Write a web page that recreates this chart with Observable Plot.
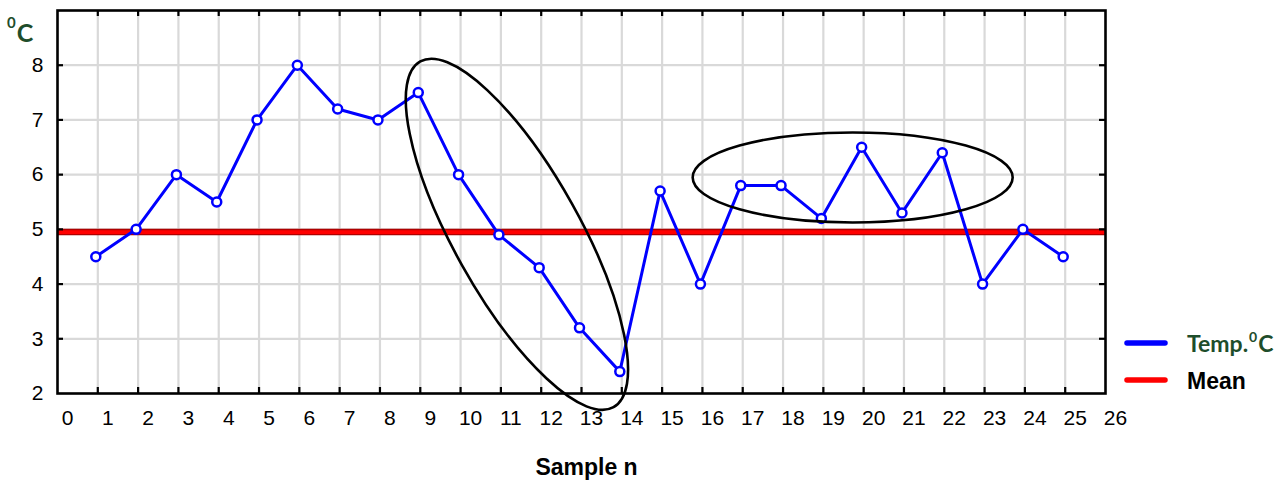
<!DOCTYPE html>
<html><head><meta charset="utf-8">
<script src="https://cdn.jsdelivr.net/npm/d3@7"></script>
<script src="https://cdn.jsdelivr.net/npm/@observablehq/plot@0.6"></script>
<style>
body{margin:0;background:#fff;}
#wrap{position:relative;width:1288px;height:489px;overflow:hidden;}
</style></head><body><div id="wrap"></div>
<script>
// ---- data ----
const samples = [1,2,3,4,5,6,7,8,9,10,11,12,13,14,15,16,17,18,19,20,21,22,23,24,25];
const temps = [4.5,5.0,6.0,5.5,7.0,8.0,7.2,7.0,7.5,6.0,4.9,4.3,3.2,2.4,5.7,4.0,5.8,5.8,5.2,6.5,5.3,6.4,4.0,5.0,4.5];
const meanTemp = [4.95];
const xTickLabels = [0,1,2,3,4,5,6,7,8,9,10,11,12,13,14,15,16,17,18,19,20,21,22,23,24,25,26];
const xGrid = [1,2,3,4,5,6,7,8,9,10,11,12,13,14,15,16,17,18,19,20,21,22,23,24,25];
const yTickLabels = [2,3,4,5,6,7,8];
const yGrid = [3,4,5,6,7,8];
// annotation ellipses (centres in data units)
const ellipseCentersX = [11.41, 19.74];
const ellipseCentersY = [4.90, 5.94];

const rows = samples.map((s, i) => ({sample: s, temp: temps[i]}));

const ellipseShape = [{rx: 198, ry: 63, angle: 60.8}, {rx: 160, ry: 45, angle: 0}];
function ellipseMark(index, scales) {
  const sx = scales.x || (scales.scales && scales.scales.x);
  const sy = scales.y || (scales.scales && scales.scales.y);
  const g = d3.create("svg:g").attr("fill", "none").attr("stroke", "#000").attr("stroke-width", 2.6);
  ellipseCentersX.forEach((cx, i) => {
    const e = ellipseShape[i];
    g.append("ellipse").attr("cx", 0).attr("cy", 0).attr("rx", e.rx).attr("ry", e.ry)
      .attr("transform", `translate(${sx(cx)},${sy(ellipseCentersY[i])}) rotate(${e.angle})`);
  });
  return g.node();
}

const chart = Plot.plot({
  width: 1288, height: 489,
  marginLeft: 57, marginRight: 183, marginTop: 10, marginBottom: 96,
  x: {domain: [0, 26]},
  y: {domain: [2, 9]},
  style: {fontFamily: "'Liberation Sans', Arial, sans-serif", fontSize: "21px", color: "#000", background: "#fff", overflow: "visible"},
  marks: [
    Plot.gridX(xGrid, {stroke: "#d9d9d9", strokeOpacity: 1, strokeWidth: 2.2}),
    Plot.gridY(yGrid, {stroke: "#d9d9d9", strokeOpacity: 1, strokeWidth: 2.2}),
    Plot.ruleY(meanTemp, {stroke: "#b00000", strokeWidth: 6.5}),
    Plot.ruleY(meanTemp, {stroke: "#ff0000", strokeWidth: 3.8}),
    Plot.line(rows, {x: "sample", y: "temp", stroke: "#0000ff", strokeWidth: 3, dx: -2}),
    Plot.dot(rows, {x: "sample", y: "temp", r: 4.5, stroke: "#0000ff", strokeWidth: 2.5, fill: "#fff", dx: -2}),
    ellipseMark,
    Plot.tickX(xGrid, {x: d => d, insetTop: 377, stroke: "#000", strokeWidth: 2.2}),
    Plot.tickX(xGrid, {x: d => d, insetBottom: 377, stroke: "#000", strokeWidth: 2.2}),
    Plot.tickY(yGrid, {y: d => d, insetRight: 1042, stroke: "#000", strokeWidth: 2.2}),
    Plot.tickY(yGrid, {y: d => d, insetLeft: 1042, stroke: "#000", strokeWidth: 2.2}),
    Plot.frame({stroke: "#000", strokeWidth: 2.6}),
    Plot.axisX(xTickLabels, {tickSize: 0, tickPadding: 17, dx: 10, label: null, fontSize: 21, tickFormat: d => String(d)}),
    Plot.axisY(yTickLabels, {tickSize: 0, tickPadding: 14, label: null, fontSize: 21, tickFormat: d => String(d)}),
    Plot.text(["Sample n"], {text: d => d, frameAnchor: "bottom", dy: 81, dx: 5, fontSize: 23, fontWeight: "bold", fill: "#000"})
  ]
});
document.getElementById("wrap").appendChild(chart);

// y-axis unit title and legend
const svg = d3.select(chart);
const yt = svg.append("text").attr("x", 7).attr("y", 42).attr("fill", "#1e4d2b").attr("text-anchor", "start")
  .attr("font-family", "Lato, 'Open Sans', sans-serif").attr("font-weight", "bold").attr("font-size", 25);
yt.append("tspan").attr("font-size", 15).attr("dy", -14).text("0");
yt.append("tspan").attr("dy", 14).attr("dx", 1).text("C");

const legend = svg.append("g").attr("text-anchor", "start");
const legendItems = [
  {label: "Temp.", color: "#0000ff", textColor: "#1e4d2b", font: "Lato, 'Open Sans', sans-serif", sup: true, y: 343},
  {label: "Mean", color: "#ff0000", textColor: "#000", font: "'Liberation Sans', Arial, sans-serif", sup: false, y: 380}
];
legendItems.forEach(it => {
  legend.append("line").attr("x1", 1127).attr("x2", 1165).attr("y1", it.y).attr("y2", it.y)
    .attr("stroke", it.color).attr("stroke-width", 5.5).attr("stroke-linecap", "round");
  const t = legend.append("text").attr("x", 1187).attr("y", it.y + 9).attr("fill", it.textColor).attr("text-anchor", "start")
    .attr("font-family", it.font).attr("font-weight", "bold").attr("font-size", 23);
  if (it.sup) {
    t.append("tspan").text(it.label);
    t.append("tspan").attr("font-size", 14).attr("dy", -10).attr("dx", 1).text("0");
    t.append("tspan").attr("dy", 10).attr("dx", 1).text("C");
  } else {
    t.text(it.label);
  }
});
</script></body></html>
